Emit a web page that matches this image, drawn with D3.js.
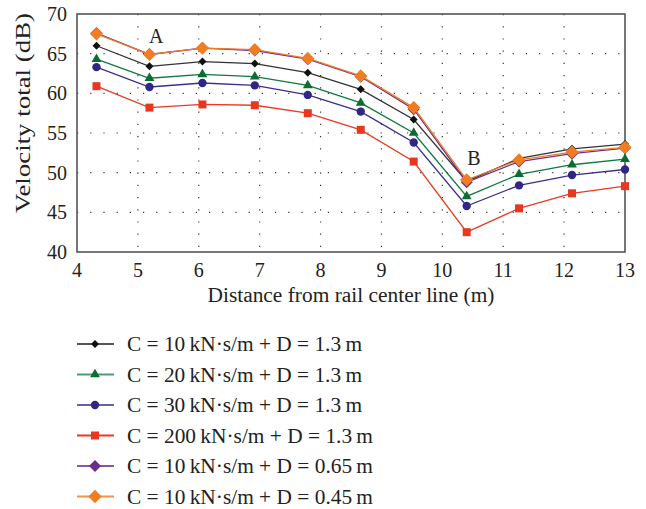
<!DOCTYPE html>
<html>
<head>
<meta charset="utf-8">
<script src="https://cdn.jsdelivr.net/npm/d3@7"></script>
<style>
  body { margin: 0; background: #fff; overflow: hidden; }
  svg { display: block; }
  text { font-family: "Liberation Serif", "DejaVu Serif", serif; fill: #222; font-size: 20px; }
</style>
</head>
<body>
<svg id="chart"></svg>
<script>
// distance from rail center line (m)
const distance = [4.32, 5.19, 6.06, 6.92, 7.79, 8.66, 9.53, 10.4, 11.26, 12.13, 13.0];

// velocity total (dB) for each case
const c10d13 = [66.0, 63.4, 64.0, 63.75, 62.6, 60.5, 56.7, 48.9, 51.8, 53.0, 53.6];
const c20d13 = [64.3, 61.9, 62.4, 62.1, 61.0, 58.8, 55.0, 47.0, 49.8, 51.0, 51.7];
const c30d13 = [63.3, 60.8, 61.3, 61.0, 59.8, 57.7, 53.8, 45.8, 48.4, 49.7, 50.4];
const c200d13 = [60.9, 58.2, 58.6, 58.5, 57.5, 55.4, 51.4, 42.5, 45.5, 47.4, 48.3];
const c10d065 = [67.6, 64.9, 65.7, 65.4, 64.3, 62.1, 58.0, 48.8, 51.4, 52.4, 53.1];
const c10d045 = [67.5, 64.9, 65.7, 65.5, 64.4, 62.2, 58.2, 49.1, 51.6, 52.6, 53.2];

const xTicks = [4, 5, 6, 7, 8, 9, 10, 11, 12, 13];
const yTicks = [40, 45, 50, 55, 60, 65, 70];

const series = [
  { name: "C = 10\u2009kN\u00b7s/m + D = 1.3\u2009m", values: c10d13, line: "#333", lineLeg: "#555", fill: "#111", shape: "diamond", size: 32, w: 235 },
  { name: "C = 20\u2009kN\u00b7s/m + D = 1.3\u2009m", values: c20d13, line: "#0e7a3c", lineLeg: "#4a9e6e", fill: "#0a6e32", shape: "triangle", size: 42, w: 235 },
  { name: "C = 30\u2009kN\u00b7s/m + D = 1.3\u2009m", values: c30d13, line: "#3b2f8c", lineLeg: "#6a5fae", fill: "#2e2785", shape: "circle", size: 55, w: 235 },
  { name: "C = 200\u2009kN\u00b7s/m + D = 1.3\u2009m", values: c200d13, line: "#ea3a22", lineLeg: "#ea3a22", fill: "#e8371f", shape: "square", size: 64, w: 246 },
  { name: "C = 10\u2009kN\u00b7s/m + D = 0.65\u2009m", values: c10d065, line: "#6c2f8e", lineLeg: "#8a55a8", fill: "#6c2d8a", shape: "diamond", size: 72, w: 246 },
  { name: "C = 10\u2009kN\u00b7s/m + D = 0.45\u2009m", values: c10d045, line: "#f07a26", lineLeg: "#f29050", fill: "#f07d22", shape: "diamond", size: 88, w: 246 }
];

const width = 646;
const height = 509;
const margin = { top: 14, left: 77, right: 21, bottom: 257 };

const svg = d3.select("#chart")
  .attr("width", width)
  .attr("height", height);

// scales in page coordinates
const x = d3.scaleLinear().domain([4, 13]).range([margin.left, width - margin.right]);
const y = d3.scaleLinear().domain([40, 70]).range([height - margin.bottom, margin.top]);

// dotted grid
svg.append("g")
  .selectAll("line")
  .data(xTicks.slice(1, -1))
  .enter()
  .append("line")
  .attr("x1", d => x(d)).attr("x2", d => x(d))
  .attr("y1", y(70)).attr("y2", y(40))
  .attr("stroke", "#333")
  .attr("stroke-width", 1.2)
  .attr("stroke-dasharray", "1.2,11");

svg.append("g")
  .selectAll("line")
  .data(yTicks.slice(1, -1))
  .enter()
  .append("line")
  .attr("x1", x(4)).attr("x2", x(13))
  .attr("y1", d => y(d)).attr("y2", d => y(d))
  .attr("stroke", "#333")
  .attr("stroke-width", 1.2)
  .attr("stroke-dasharray", "1.2,12");

// tick labels
svg.append("g")
  .selectAll("text")
  .data(xTicks)
  .enter()
  .append("text")
  .attr("x", d => x(d))
  .attr("y", y(40) + 25)
  .attr("text-anchor", "middle")
  .text(d => d);

svg.append("g")
  .selectAll("text")
  .data(yTicks)
  .enter()
  .append("text")
  .attr("x", x(4) - 10)
  .attr("y", d => y(d) + 7)
  .attr("text-anchor", "end")
  .text(d => d);

// frame
svg.append("rect")
  .attr("x", x(4)).attr("y", y(70))
  .attr("width", x(13) - x(4)).attr("height", y(40) - y(70))
  .attr("fill", "none")
  .attr("stroke", "#555")
  .attr("stroke-width", 1.6);

// axis titles
svg.append("text")
  .attr("x", (x(4) + x(13)) / 2)
  .attr("y", 302)
  .attr("text-anchor", "middle")
  .attr("textLength", 287)
  .attr("lengthAdjust", "spacingAndGlyphs")
  .text("Distance from rail center line (m)");

svg.append("text")
  .attr("transform", "translate(30,113) rotate(-90)")
  .attr("text-anchor", "middle")
  .attr("textLength", 200)
  .attr("lengthAdjust", "spacingAndGlyphs")
  .text("Velocity total (dB)");

const symbolOf = s => {
  if (s.shape === "triangle") return d3.symbol().type(d3.symbolTriangle).size(s.size)();
  if (s.shape === "circle") return d3.symbol().type(d3.symbolCircle).size(s.size)();
  return d3.symbol().type(d3.symbolSquare).size(s.size)();
};
const rotOf = s => s.shape === "diamond" ? " rotate(45)" : "";

const line = d3.line()
  .x((d, i) => x(distance[i]))
  .y(d => y(d));

series.forEach(s => {
  svg.append("path")
    .datum(s.values)
    .attr("d", line)
    .attr("fill", "none")
    .attr("stroke", s.line)
    .attr("stroke-width", 1.3);

  svg.append("g")
    .selectAll("path")
    .data(s.values)
    .enter()
    .append("path")
    .attr("d", symbolOf(s))
    .attr("transform", (d, i) => "translate(" + x(distance[i]) + "," + y(d) + ")" + rotOf(s))
    .attr("fill", s.fill);
});

// annotations
svg.append("text")
  .attr("x", x(5.3)).attr("y", y(66.3))
  .attr("text-anchor", "middle")
  .text("A");

svg.append("text")
  .attr("x", x(10.52)).attr("y", y(51.0))
  .attr("text-anchor", "middle")
  .text("B");

// legend
const legendX = 77;
const legendY = 344;
const rowH = 30.5;

series.forEach((s, i) => {
  const cy = legendY + i * rowH;
  svg.append("line")
    .attr("x1", legendX).attr("x2", legendX + 37)
    .attr("y1", cy).attr("y2", cy)
    .attr("stroke", s.lineLeg)
    .attr("stroke-width", 2);
  svg.append("path")
    .attr("d", symbolOf(s))
    .attr("transform", "translate(" + (legendX + 18) + "," + cy + ")" + rotOf(s))
    .attr("fill", s.fill);
  svg.append("text")
    .attr("x", legendX + 50)
    .attr("y", cy + 7)
    .attr("textLength", s.w)
    .attr("lengthAdjust", "spacingAndGlyphs")
    .text(s.name);
});
</script>
</body>
</html>
